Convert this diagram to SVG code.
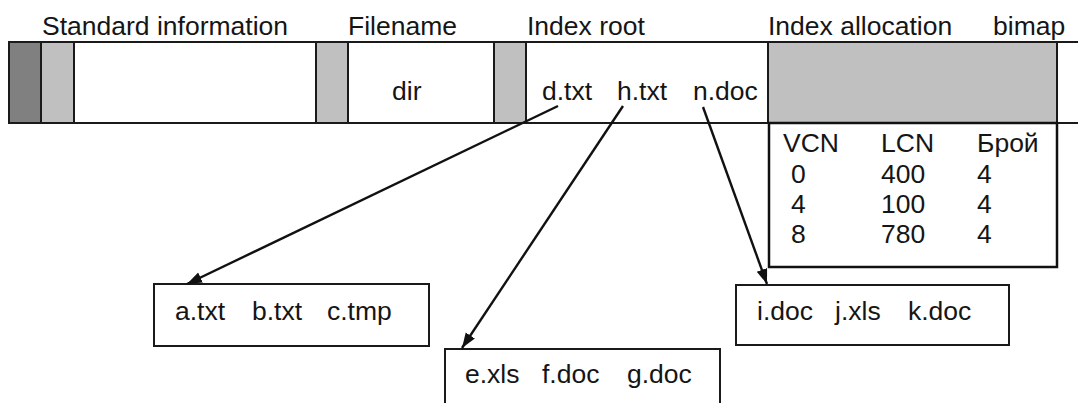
<svg xmlns="http://www.w3.org/2000/svg" width="1078" height="403" viewBox="0 0 1078 403">
  <style>
    text { font-family: "Liberation Sans", Arial, sans-serif; font-size: 26.5px; fill: #151515; }
    .cell { stroke: #1a1a1a; stroke-width: 2; }
    .dark { fill: #808080; }
    .light { fill: #c0c0c0; }
    .blank { fill: #ffffff; }
    .edge { fill: none; stroke: #1a1a1a; stroke-width: 2; }
    .box { fill: #ffffff; stroke: #1a1a1a; stroke-width: 2; }
    .link { fill: none; stroke: #111; stroke-width: 2.4; marker-end: url(#arrow); }
  </style>
  <defs>
    <marker id="arrow" markerWidth="18" markerHeight="12" refX="15" refY="5.5" orient="auto" markerUnits="userSpaceOnUse">
      <path d="M0,0 L15,5.5 L0,11 Z" fill="#111"/>
    </marker>
  </defs>

  <rect width="1078" height="403" fill="#ffffff"/>

  <!-- attribute headings -->
  <g id="headings">
    <text x="42" y="35">Standard information</text>
    <text x="348" y="35">Filename</text>
    <text x="527" y="35">Index root</text>
    <text x="768" y="35">Index allocation</text>
    <text x="993" y="35">bimap</text>
  </g>

  <!-- MFT record strip -->
  <g id="mft-record">
    <rect class="cell dark" x="9" y="42" width="32" height="81"/>
    <rect class="cell light" x="41" y="42" width="33" height="81"/>
    <rect class="cell blank" x="74" y="42" width="242" height="81"/>
    <rect class="cell light" x="316" y="42" width="32" height="81"/>
    <rect class="cell blank" x="348" y="42" width="146" height="81"/>
    <rect class="cell light" x="494" y="42" width="32" height="81"/>
    <rect class="cell blank" x="526" y="42" width="242" height="81"/>
    <rect class="cell light" x="768" y="42" width="289" height="81"/>
    <path class="edge" d="M1057,42 H1078 M1057,123 H1078"/>
    <text x="392" y="100">dir</text>
    <text x="542" y="100">d.txt</text>
    <text x="617" y="100">h.txt</text>
    <text x="693" y="100">n.doc</text>
  </g>

  <!-- run list of the index allocation -->
  <g id="run-list">
    <rect x="769" y="123" width="288" height="144" fill="#ffffff" stroke="#111" stroke-width="2.5"/>
    <text x="783" y="152">VCN</text>
    <text x="881" y="152">LCN</text>
    <text x="977" y="152">Брой</text>
    <text x="791" y="183">0</text>
    <text x="881" y="183">400</text>
    <text x="977" y="183">4</text>
    <text x="791" y="213">4</text>
    <text x="881" y="213">100</text>
    <text x="977" y="213">4</text>
    <text x="791" y="243">8</text>
    <text x="881" y="243">780</text>
    <text x="977" y="243">4</text>
  </g>

  <!-- index nodes -->
  <g id="node-abc">
    <rect class="box" x="154" y="284" width="275" height="62"/>
    <text x="175" y="320">a.txt</text>
    <text x="252" y="320">b.txt</text>
    <text x="327" y="320">c.tmp</text>
  </g>
  <g id="node-efg">
    <rect class="box" x="445" y="349" width="275" height="80"/>
    <text x="465" y="383">e.xls</text>
    <text x="542" y="383">f.doc</text>
    <text x="627" y="383">g.doc</text>
  </g>
  <g id="node-ijk">
    <rect class="box" x="736" y="285" width="273" height="60"/>
    <text x="757" y="320">i.doc</text>
    <text x="835" y="320">j.xls</text>
    <text x="908" y="320">k.doc</text>
  </g>

  <!-- pointers from root entries to child nodes -->
  <g id="connectors">
    <line class="link" x1="558" y1="106" x2="187" y2="284"/>
    <line class="link" x1="623" y1="106" x2="462" y2="348"/>
    <line class="link" x1="703" y1="107" x2="767" y2="284"/>
  </g>
</svg>
